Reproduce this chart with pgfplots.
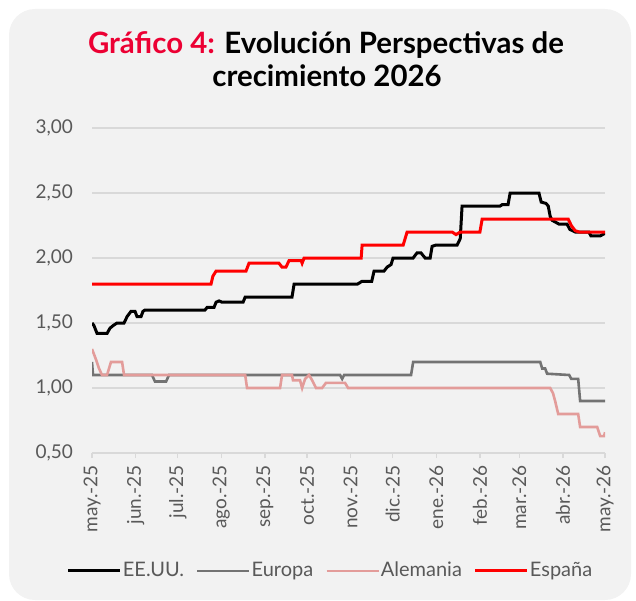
\documentclass[border=0pt]{standalone}
\usepackage{fontspec}
\setmainfont{Lato}
\usepackage{pgfplots}
\pgfplotsset{compat=1.18}
\definecolor{titlered}{HTML}{EC0033}
\definecolor{bg}{HTML}{F2F2F2}
\definecolor{gridgray}{HTML}{D9D9D9}
\definecolor{labgray}{HTML}{595959}
\definecolor{eugray}{HTML}{737373}
\definecolor{depink}{HTML}{E39C9A}
\definecolor{esred}{HTML}{FF0000}

\begin{document}
\begin{tikzpicture}[x=0.5pt,y=0.5pt]
\useasboundingbox (0,0) rectangle (636,600);
\fill[bg, rounded corners=13pt] (9,0) rectangle (631,591);
\node[font=\fontsize{14.7}{17}\selectfont\bfseries] at (326,555)
  {\textcolor{titlered}{Gráfico 4:} Evolución Perspectivas de};
\node[font=\fontsize{14.7}{17}\selectfont\bfseries] at (327,524) {crecimiento 2026};

\begin{axis}[
    at={(46pt,73.5pt)}, anchor=south west,
    scale only axis, width=256.5pt, height=162.5pt,
    xmin=0, xmax=365, ymin=0.5, ymax=3.0,
    axis lines*=left,
    x axis line style={-, draw=gridgray, line width=0.7pt},
    y axis line style={draw=none},
    xtick={0,31,61,92,123,153,184,214,245,276,304,335,365},
    xticklabels={may.-25,jun.-25,jul.-25,ago.-25,sep.-25,oct.-25,nov.-25,dic.-25,ene.-26,feb.-26,mar.-26,abr.-26,may.-26},
    xtick align=outside,
    major tick length=2.5pt,
    xtick style={draw=gridgray, line width=0.7pt},
    ytick={0.5,1,1.5,2,2.5,3},
    ytick style={draw=none},
    ymajorgrids,
    grid style={draw=gridgray, line width=0.7pt},
    tick label style={font=\fontsize{9.5}{11}\selectfont, text=labgray},
    xticklabel style={rotate=90, anchor=east},
    yticklabel style={xshift=-6pt},
    /pgf/number format/.cd, fixed, fixed zerofill, precision=2, use comma, assume math mode=true,
    /pgfplots/.cd,
    legend columns=4,
    legend cell align=left,
    legend style={at={(0.466,-0.363)}, anchor=center, draw=none, fill=none,
      font=\fontsize{10}{12}\selectfont, text=labgray,
      nodes={inner xsep=1.5pt},
      /tikz/every odd column/.append style={column sep=-1pt},
      /tikz/every even column/.append style={column sep=4.5pt}},
    legend image code/.code={\draw[#1] (0pt,0pt) -- (26pt,0pt);},
]
\addplot[black, line width=1.5pt] coordinates {
(0,1.50) (1.4,1.48) (3.6,1.42) (10.7,1.42) (12.8,1.46) (15,1.48) (17.8,1.50)
(22.8,1.50) (25,1.55) (27.8,1.59) (30.6,1.59) (32,1.55) (34.9,1.55) (36.3,1.59)
(37.7,1.60) (80.4,1.60) (81.9,1.62) (86.8,1.62) (88.3,1.66) (90.4,1.67) (92.5,1.66)
(107.5,1.66) (109,1.70) (142.3,1.70) (143.8,1.80) (189,1.80) (192,1.82) (199,1.82)
(200.7,1.90) (207.8,1.90) (210,1.93) (212.8,1.95) (214.2,2.00) (228.5,2.00)
(231.3,2.04) (234,2.04) (237,2.00) (240.6,2.00) (242,2.09) (244.8,2.10) (259.8,2.10)
(261.2,2.13) (262,2.15) (263.3,2.40) (290.4,2.40) (291.8,2.41) (296,2.41) (297.5,2.50)
(318,2.50) (319.6,2.43) (323,2.42) (324.6,2.40) (326,2.32) (327.4,2.29) (332.4,2.26)
(338,2.26) (340,2.22) (343.8,2.20) (353.5,2.20) (355,2.17) (361.6,2.17) (365,2.19)
};
\addlegendentry{EE.UU.}
\addplot[eugray, line width=1.3pt] coordinates {
(0,1.20) (0.7,1.10) (42.7,1.10) (44.8,1.05) (52.7,1.05) (54.8,1.10) (176.5,1.10)
(178,1.07) (179.4,1.10) (227,1.10) (228.5,1.20) (318.9,1.20) (320.3,1.15) (322.4,1.15)
(323.8,1.11) (339.5,1.10) (341,1.07) (345.9,1.07) (347.3,0.90) (365,0.90)
};
\addlegendentry{Europa}
\addplot[depink, line width=1.3pt] coordinates {
(0,1.30) (1.4,1.26) (2.8,1.22) (5,1.15) (7.1,1.10) (10.7,1.10) (13.5,1.20) (21.4,1.20)
(22.8,1.10) (109,1.10) (110.3,1.00) (133.8,1.00) (135.2,1.10) (142.3,1.10) (143,1.06)
(148,1.06) (149.5,1.00) (151.6,1.07) (154.4,1.10) (156.6,1.06) (159.4,1.00) (163.7,1.00)
(166.5,1.04) (180,1.04) (182.2,1.00) (326,1.00) (328,0.96) (329.5,0.90) (331.7,0.80)
(345.9,0.80) (347.3,0.70) (359.4,0.70) (361.6,0.63) (364.4,0.63) (365,0.66)
};
\addlegendentry{Alemania}
\addplot[esred, line width=1.5pt] coordinates {
(0,1.80) (84.7,1.80) (86,1.86) (88.3,1.90) (109.6,1.90) (111.7,1.96) (133,1.96)
(135.2,1.93) (138,1.93) (140.2,1.98) (148.8,1.98) (149.5,1.96) (150.9,2.00) (191.5,2.00)
(192.2,2.10) (221.4,2.10) (224.2,2.20) (256.2,2.20) (259,2.18) (262,2.20) (276,2.20)
(277.6,2.30) (338.8,2.30) (341,2.25) (343.8,2.21) (346.6,2.20) (365,2.20)
};
\addlegendentry{España}
\end{axis}
\end{tikzpicture}
\end{document}
